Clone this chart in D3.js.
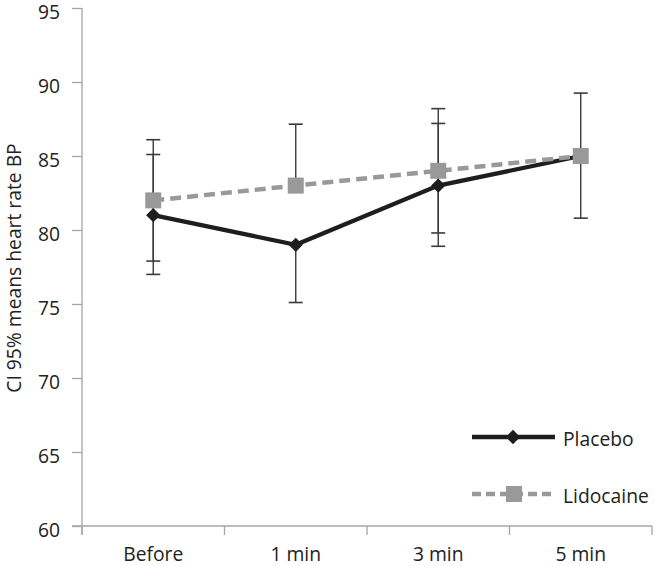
<!DOCTYPE html>
<html>
<head>
<meta charset="utf-8">
<script src="https://cdn.jsdelivr.net/npm/d3@7"></script>
<style>
  body { margin: 0; background: #fff; }
  text { font-family: "Open Sans", sans-serif; fill: #222; }
</style>
</head>
<body>
<script>
// chart data
const categories = ["Before", "1 min", "3 min", "5 min"];
const yTicks = [60, 65, 70, 75, 80, 85, 90, 95];

const placeboValues = [81, 79, 83, 85];
const placeboLow = [77.0, 75.1, 78.9, 80.8];
const placeboHigh = [85.1, null, 87.2, null];

const lidocaineValues = [82, 83, 84, 85];
const lidocaineLow = [77.9, null, 79.8, null];
const lidocaineHigh = [86.1, 87.15, 88.2, 89.25];

const seriesNames = ["Placebo", "Lidocaine"];

const width = 655, height = 566;
const margin = {left: 82, right: 3, top: 8, bottom: 40};
const fontSize = "19.3px";

let svg = d3.select("body").append("svg")
	.attr("width", width)
	.attr("height", height);

let x = d3.scaleBand()
	.domain(categories)
	.range([margin.left, width - margin.right]);

let y = d3.scaleLinear()
	.domain([60, 95])
	.range([height - margin.bottom, margin.top]);

// y axis
let yAxis = svg.append("g")
	.attr("transform", "translate(" + margin.left + ",0)")
	.call(d3.axisLeft(y).tickValues(yTicks).tickSize(10).tickPadding(12));
yAxis.selectAll("line").attr("stroke", "#a6a6a6").attr("stroke-width", 1.3);
yAxis.select(".domain").attr("stroke", "#a6a6a6").attr("stroke-width", 1.3)
	.attr("d", "M0," + y(95) + "V" + (y(60) + 9));
yAxis.selectAll("text")
	.style("font-size", fontSize)
	.attr("dy", "0.52em")
	.attr("fill", "#222");

// x axis, ticks at category boundaries
let xg = svg.append("g")
	.attr("transform", "translate(0," + y(60) + ")");
xg.append("line")
	.attr("x1", margin.left - 10).attr("x2", width - margin.right)
	.attr("stroke", "#a6a6a6").attr("stroke-width", 1.3);
let bounds = categories.map(c => x(c)).concat([x(categories[3]) + x.bandwidth()]);
xg.selectAll(".tk")
	.data(bounds)
	.enter().append("line")
	.attr("x1", d => d).attr("x2", d => d)
	.attr("y1", 0).attr("y2", 9)
	.attr("stroke", "#a6a6a6").attr("stroke-width", 1.3);
xg.selectAll(".lbl")
	.data(categories)
	.enter().append("text")
	.attr("x", d => x(d) + x.bandwidth() / 2)
	.attr("y", 35)
	.attr("text-anchor", "middle")
	.style("font-size", fontSize)
	.text(d => d);

// y axis title
svg.append("text")
	.attr("transform", "translate(21," + 268 + ") rotate(-90)")
	.attr("text-anchor", "middle")
	.style("font-size", fontSize)
	.text("CI 95% means heart rate BP");

let cx = d => x(d) + x.bandwidth() / 2;

// error bars
function errorBars(values, low, high) {
	for (let i = 0; i < categories.length; i++) {
		let px = cx(categories[i]);
		for (let end of [low[i], high[i]]) {
			if (end == null) continue;
			svg.append("line")
				.attr("x1", px).attr("x2", px)
				.attr("y1", y(values[i])).attr("y2", y(end))
				.attr("stroke", "#3a3a3a").attr("stroke-width", 1.4);
			svg.append("line")
				.attr("x1", px - 7).attr("x2", px + 7)
				.attr("y1", y(end)).attr("y2", y(end))
				.attr("stroke", "#3a3a3a").attr("stroke-width", 1.6);
		}
	}
}
errorBars(placeboValues, placeboLow, placeboHigh);
errorBars(lidocaineValues, lidocaineLow, lidocaineHigh);

let line = d3.line()
	.x((d, i) => cx(categories[i]))
	.y(d => y(d));

// placebo
svg.append("path")
	.datum(placeboValues)
	.attr("d", line)
	.attr("fill", "none")
	.attr("stroke", "#1e1e1e")
	.attr("stroke-width", 4.3);
svg.selectAll(".dia")
	.data(placeboValues)
	.enter().append("path")
	.attr("d", d3.symbol(d3.symbolDiamond2, 130))
	.attr("transform", (d, i) => "translate(" + cx(categories[i]) + "," + y(d) + ")")
	.attr("fill", "#1e1e1e");

// lidocaine
svg.append("path")
	.datum(lidocaineValues)
	.attr("d", line)
	.attr("fill", "none")
	.attr("stroke", "#999999")
	.attr("stroke-width", 4.5)
	.attr("stroke-dasharray", "11,6");
svg.selectAll(".sq")
	.data(lidocaineValues)
	.enter().append("rect")
	.attr("x", (d, i) => cx(categories[i]) - 8)
	.attr("y", d => y(d) - 8)
	.attr("width", 16).attr("height", 16)
	.attr("fill", "#999999");

// legend
let leg = svg.append("g");
let legY = [437, 494];
leg.append("line")
	.attr("x1", 472).attr("x2", 555).attr("y1", legY[0]).attr("y2", legY[0])
	.attr("stroke", "#1e1e1e").attr("stroke-width", 4.3);
leg.append("path")
	.attr("d", d3.symbol(d3.symbolDiamond2, 130))
	.attr("transform", "translate(513," + legY[0] + ")")
	.attr("fill", "#1e1e1e");
leg.append("line")
	.attr("x1", 472).attr("x2", 555).attr("y1", legY[1]).attr("y2", legY[1])
	.attr("stroke", "#999999").attr("stroke-width", 4.5)
	.attr("stroke-dasharray", "9,5");
leg.append("rect")
	.attr("x", 506).attr("y", legY[1] - 8).attr("width", 16).attr("height", 16)
	.attr("fill", "#999999");
leg.selectAll("text")
	.data(seriesNames)
	.enter().append("text")
	.attr("x", 563)
	.attr("y", (d, i) => legY[i] + 8.5)
	.style("font-size", fontSize)
	.text(d => d);
</script>
</body>
</html>
